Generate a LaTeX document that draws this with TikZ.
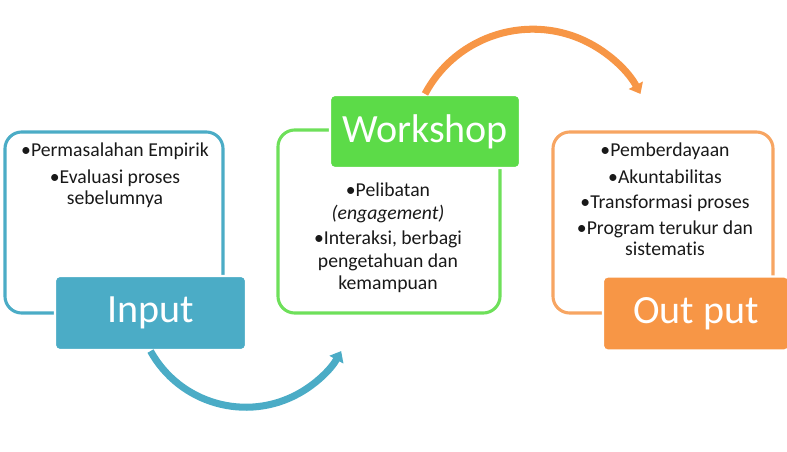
\documentclass[tikz,border=0pt]{standalone}
\usepackage{fontspec}
\setmainfont{Carlito}[Ligatures=NoCommon]
\usetikzlibrary{arrows.meta}

\definecolor{inblue}{RGB}{75,172,198}
\definecolor{wsgreen}{RGB}{92,219,72}
\definecolor{wsgreenline}{RGB}{110,224,90}
\definecolor{outorange}{RGB}{247,150,70}
\definecolor{outorangeline}{RGB}{247,165,98}
\definecolor{txtgray}{RGB}{25,25,25}

\begin{document}
\begin{tikzpicture}[x=0.025cm, y=-0.025cm,
    frame/.style={draw, line width=2.2pt, rounded corners=0.42cm, fill=white},
    titlebox/.style={draw=white, line width=1.5pt, rounded corners=0.12cm,
        text=white, font=\fontsize{28.5}{30}\selectfont, minimum height=1.85cm},
    points/.style={align=center, inner sep=0pt, anchor=north, text=txtgray,
        font=\fontsize{14}{15}\selectfont},
    flow/.style={line width=5pt, -{Triangle[width=11pt,length=7pt]}}]

    \useasboundingbox (0,0) rectangle (787,452);

    % Input
    \node[frame, draw=inblue, minimum width=5.45cm, minimum height=4.525cm] (inframe) at (114,222.5) {};
    \node[titlebox, fill=inblue, minimum width=4.775cm] (input) at (150.5,313) {Input};
    \node[points] (intext) at (115,143) {•Permasalahan Empirik\\[4pt]•Evaluasi proses\\sebelumnya};

    % Workshop
    \node[frame, draw=wsgreenline, minimum width=5.55cm, minimum height=4.575cm] (wsframe) at (389,221.5) {};
    \node[titlebox, fill=wsgreen, minimum width=4.75cm, minimum height=1.825cm] (workshop) at (425,131.5) {Workshop};
    \node[points, font=\fontsize{14}{16}\selectfont] (wstext) at (388,183) {•Pelibatan\\\textit{(engagement)}\\[2pt]•Interaksi, berbagi\\pengetahuan dan\\kemampuan};

    % Out put
    \node[frame, draw=outorangeline, minimum width=5.5cm, minimum height=4.525cm] (outframe) at (663,222.5) {};
    \node[titlebox, fill=outorange, minimum width=4.65cm] (output) at (696,313.5) {Out put};
    \node[points] (outtext) at (665,143) {•Pemberdayaan\\[4pt]•Akuntabilitas\\[3pt]•Transformasi proses\\[3pt]•Program terukur dan\\sistematis};

    % arcs
    \draw[flow, inblue] (input.south) arc[start angle=151, end angle=29, radius=109];
    \draw[flow, outorange] (workshop.north) arc[start angle=208, end angle=332, radius=122];

\end{tikzpicture}
\end{document}
